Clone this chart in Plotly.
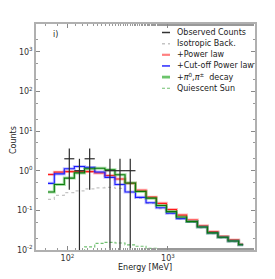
import numpy as np
import plotly.graph_objects as go

# ---- data ----
edges = [64, 74, 93, 117, 148, 187, 236, 297, 374, 475, 605, 765, 965,
         1215, 1530, 1960, 2470, 3140, 3960, 5050, 5600]

power_law = [0.80, 0.92, 0.95, 0.95, 0.95, 0.88, 0.76, 0.62, 0.48, 0.32,
             0.215, 0.150, 0.105, 0.076, 0.057, 0.041, 0.029, 0.022, 0.018, 0.014]
cutoff_pl = [0.48, 0.83, 1.12, 1.28, 1.21, 0.93, 0.68, 0.45, 0.29, 0.213,
             0.155, 0.116, 0.085, 0.062, 0.052, 0.038, 0.027, 0.021, 0.0168, 0.0136]
pion = [0.29, 0.45, 0.65, 0.88, 1.12, 1.15, 1.05, 0.79, 0.49, 0.30,
        0.203, 0.132, 0.093, 0.068, 0.052, 0.038, 0.027, 0.021, 0.0168, 0.0136]
isotropic = [0.19, 0.24, 0.28, 0.31, 0.35, 0.37, 0.38, 0.36, 0.29, 0.20,
             0.15, 0.11, 0.082, 0.061, 0.050, 0.036, 0.026, 0.020, 0.016, 0.013]
quiescent = [0.004, 0.006, 0.008, 0.0095, 0.012, 0.0147, 0.0156, 0.015, 0.0135, 0.0124,
             0.011, 0.0095, 0.008, 0.007, 0.006, 0.005, 0.004, 0.0035, 0.003, 0.0025]

obs_bins = [2, 3, 4, 6, 7, 8]
obs_counts = [2, 1, 2, 1, 1, 1]
obs_err_up = [1.65, 1.0, 1.65, 1.0, 1.0, 1.0]
obs_err_down = [1.67, 0.99999, 1.67, 0.99999, 0.99999, 0.99999]

x_tickvals = [100, 1000]
x_ticktext = ["10<sup>2</sup>", "10<sup>3</sup>"]
y_tickvals = [0.01, 0.1, 1, 10, 100, 1000]
y_ticktext = ["10<sup>-2</sup>", "10<sup>-1</sup>", "10<sup>0</sup>", "10<sup>1</sup>",
              "10<sup>2</sup>", "10<sup>3</sup>"]

legend_labels = ["Observed Counts", "Isotropic Back.", "+Power law", "+Cut-off Power law",
                 "+<i>π</i><sup>0</sup>,<i>π</i><sup>±</sup>  decay", "Quiescent Sun"]

# ---- figure ----
W, H = 275, 279
L, R, T, B = 36, 20, 24, 29
fig = go.Figure()


def steps(vals):
    return list(edges), list(vals) + [vals[-1]]


def add_step(vals, color, width, dash="solid"):
    x, y = steps(vals)
    fig.add_trace(go.Scatter(x=x, y=y, mode="lines", line=dict(color=color, width=width, dash=dash, shape="hv"),
                             showlegend=False, hoverinfo="skip"))


add_step(isotropic, "#c4c4c4", 1.2, dash="dot")
add_step(quiescent, "#70c070", 1.1, dash="3px,2px")
add_step(power_law, "rgba(255,100,100,0.45)", 3)
add_step(power_law, "#ff1a1a", 1.1)
add_step(cutoff_pl, "rgba(100,100,255,0.4)", 3)
add_step(cutoff_pl, "#1a1aff", 1.1)
add_step(pion, "rgba(60,180,60,0.45)", 3)
add_step(pion, "#0a7a0a", 1.1)

# observed counts with error crosses
ox, exp_, exm = [], [], []
for b in obs_bins:
    c = float(np.sqrt(edges[b] * edges[b + 1]))
    ox.append(c)
    exp_.append(edges[b + 1] - c)
    exm.append(c - edges[b])
fig.add_trace(go.Scatter(
    x=ox, y=obs_counts, mode="markers", marker=dict(size=1, color="rgba(0,0,0,0)"),
    error_x=dict(type="data", symmetric=False, array=exp_, arrayminus=exm, color="#2a2a2a", thickness=1.2, width=0),
    error_y=dict(type="data", symmetric=False, array=obs_err_up, arrayminus=obs_err_down, color="#2a2a2a",
                 thickness=1.2, width=0),
    showlegend=False, hoverinfo="skip"))

# ---- manual legend ----
pw, ph = W - L - R, H - T - B


def px2paper(px, py):
    return (px - L) / pw, (H - B - py) / ph


leg_styles = [("#333333", 1.5, "solid"), ("#c4c4c4", 1.5, "dot"), ("#ff8080", 2.2, "solid"),
              ("#2a2aff", 1.5, "solid"), ("#6cc46c", 2.8, "solid"), ("#70c070", 1.1, "3px,2px")]
shapes, annos = [], []
for i, (lab, (col, wd, ds)) in enumerate(zip(legend_labels, leg_styles)):
    py = 32.5 + 11.15 * i
    x0, y0 = px2paper(162, py)
    x1, _ = px2paper(170, py)
    shapes.append(dict(type="line", xref="paper", yref="paper", x0=x0, x1=x1, y0=y0, y1=y0,
                       line=dict(color=col, width=wd, dash=ds)))
    tx, _ = px2paper(174.5, py)
    annos.append(dict(x=tx, y=y0, xref="paper", yref="paper", text=lab, showarrow=False,
                      xanchor="left", yanchor="middle", font=dict(size=8, color="#222")))

ix, iy = px2paper(55, 35)
annos.append(dict(x=ix, y=iy, xref="paper", yref="paper", text="i)", showarrow=False,
                  xanchor="center", yanchor="middle", font=dict(size=8, color="#222")))

# axis titles as annotations for exact placement
tx_, ty_ = px2paper(145, 267)
annos.append(dict(x=tx_, y=ty_, xref="paper", yref="paper", text="Energy [MeV]", showarrow=False,
                  xanchor="center", yanchor="middle", font=dict(size=8, color="#222")))
cx_, cy_ = px2paper(13, 140)
annos.append(dict(x=cx_, y=cy_, xref="paper", yref="paper", text="Counts", showarrow=False, textangle=-90,
                  xanchor="center", yanchor="middle", font=dict(size=8, color="#222")))

axis_common = dict(type="log", showline=True, linecolor="#b0b0b0", linewidth=1.5, mirror="allticks",
                   ticks="inside", ticklen=4, tickcolor="#888", showgrid=False, zeroline=False,
                   automargin=False,
                   tickfont=dict(family="DejaVu Sans", size=8, color="#333"),
                   minor=dict(ticks="inside", ticklen=2, tickcolor="#999", showgrid=False))

fig.update_layout(
    width=W, height=H, margin=dict(l=L, r=R, t=T, b=B),
    paper_bgcolor="white", plot_bgcolor="white",
    font=dict(family="DejaVu Sans", size=8, color="#222"),
    xaxis=dict(**axis_common, range=[1.687, 3.866], tickmode="array",
               tickvals=x_tickvals, ticktext=x_ticktext),
    yaxis=dict(**axis_common, range=[-2, 3.7], tickmode="array",
               tickvals=y_tickvals, ticktext=y_ticktext),
    shapes=shapes, annotations=annos,
)

fig.write_html("out.html", config={"displayModeBar": False},
               post_script="document.body.style.margin='0';document.body.style.overflow='hidden';")
